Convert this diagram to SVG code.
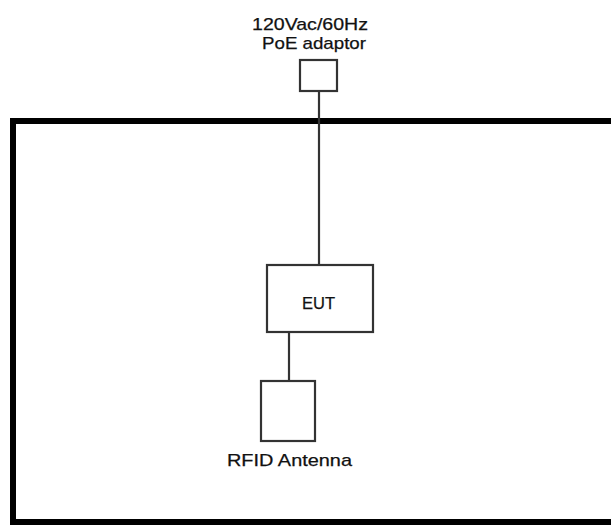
<svg xmlns="http://www.w3.org/2000/svg" width="611" height="525" viewBox="0 0 611 525">
<style>
.box{fill:#fff;stroke:#333;stroke-width:2.2}
.wire{stroke:#333;stroke-width:2.2;fill:none}
.lbl{font-family:"Liberation Sans",Arial,sans-serif;font-size:17px;fill:#111;stroke:#111;stroke-width:0.25}
</style>
<rect width="611" height="525" fill="#fff"/>
<g id="enclosure"><rect x="13" y="121" width="700" height="401" fill="none" stroke="#000" stroke-width="6"/></g>
<g id="connectors">
<line class="wire" x1="319" y1="91" x2="319" y2="265"/>
<line class="wire" x1="289" y1="332" x2="289" y2="381"/>
</g>
<g id="adaptor">
<rect class="box" x="300" y="60" width="37" height="31"/>
<text class="lbl" x="252" y="29.5" textLength="116" lengthAdjust="spacingAndGlyphs">120Vac/60Hz</text>
<text class="lbl" x="262" y="48.5" textLength="104" lengthAdjust="spacingAndGlyphs">PoE adaptor</text>
</g>
<g id="eut">
<rect class="box" x="267" y="265" width="106" height="67"/>
<text class="lbl" x="302" y="309" textLength="33" lengthAdjust="spacingAndGlyphs">EUT</text>
</g>
<g id="antenna">
<rect class="box" x="261" y="381" width="54" height="60"/>
<text class="lbl" x="227" y="466" textLength="125" lengthAdjust="spacingAndGlyphs">RFID Antenna</text>
</g>
</svg>
